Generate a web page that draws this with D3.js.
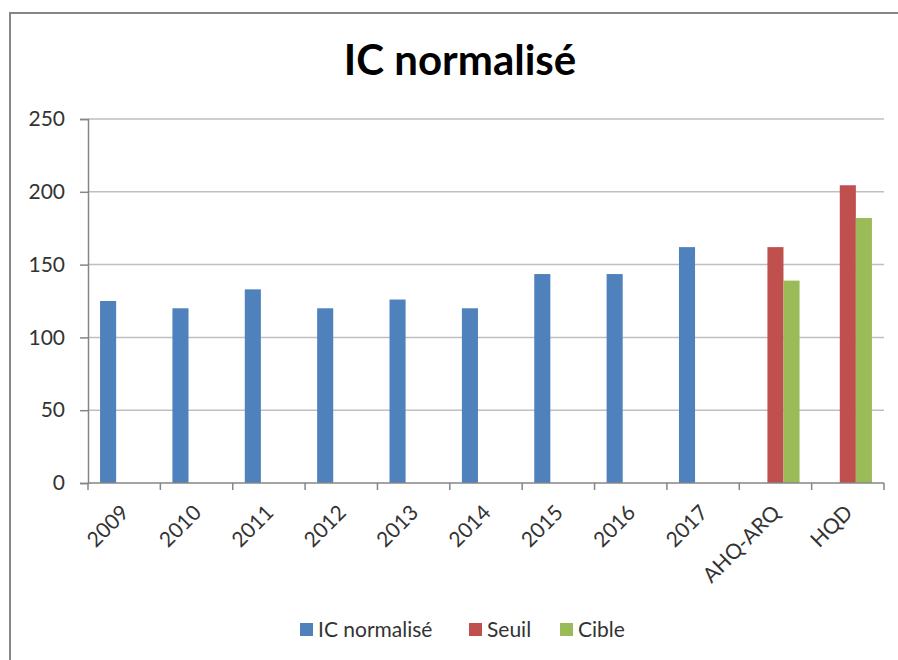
<!DOCTYPE html>
<html>
<head>
<meta charset="utf-8">
<script src="https://cdn.jsdelivr.net/npm/d3@7"></script>
<style>
  html, body { margin: 0; background: #fff; overflow: hidden; }
  svg { display: block; }
  text { font-family: Lato, "Open Sans", sans-serif; }
</style>
</head>
<body>
<div id="chart"></div>
<script>
// Chart data
const categories = ['2009', '2010', '2011', '2012', '2013', '2014', '2015', '2016', '2017', 'AHQ-ARQ', 'HQD'];
const seriesNames = ['IC normalisé', 'Seuil', 'Cible'];
const icValues = [125, 120, 133, 120, 126, 120, 143.5, 143.5, 162, null, null];
const seuilValues = [null, null, null, null, null, null, null, null, null, 162, 204.5];
const cibleValues = [null, null, null, null, null, null, null, null, null, 139, 182];
const yTicks = [0, 50, 100, 150, 200, 250];
const colors = ['#4F81BD', '#C0504D', '#9BBB59'];

const width = 898, height = 660;
const margin = { top: 119, right: 14, bottom: 177, left: 88 };
const plotW = width - margin.left - margin.right;
const plotH = height - margin.top - margin.bottom;

const svg = d3.select('#chart')
    .append('svg')
    .attr('width', width)
    .attr('height', height);

// outer frame: only the left and top edges are in the picture
svg.append('path')
    .attr('d', `M10,${height} V13 H${width}`)
    .attr('fill', 'none')
    .attr('stroke', '#868686')
    .attr('stroke-width', 2);

svg.append('text')
    .attr('x', 460)
    .attr('y', 75)
    .attr('text-anchor', 'middle')
    .attr('font-size', 42)
    .attr('font-weight', 'bold')
    .attr('fill', '#000')
    .text('IC normalisé');

const g = svg.append('g')
    .attr('transform', `translate(${margin.left}, ${margin.top})`);

const x = d3.scaleBand()
    .domain(categories)
    .range([0, plotW]);

const xInner = d3.scaleBand()
    .domain(seriesNames)
    .range([0, x.bandwidth()])
    .paddingInner(0)
    .paddingOuter(0.75);

const y = d3.scaleLinear()
    .domain([0, 250])
    .range([plotH, 0]);

// gridlines
g.append('g')
    .selectAll('line')
    .data(yTicks.filter(d => d > 0))
    .enter()
    .append('line')
    .attr('x1', 0).attr('x2', plotW)
    .attr('y1', d => y(d)).attr('y2', d => y(d))
    .attr('stroke', '#bfbfbf')
    .attr('stroke-width', 1.5);

// y axis
const yAxis = d3.axisLeft(y)
    .tickValues(yTicks)
    .tickSize(8)
    .tickPadding(15);
g.append('g')
    .attr('class', 'axis')
    .call(yAxis)
    .call(a => a.select('.domain').attr('stroke', '#868686').attr('stroke-width', 1.5))
    .call(a => a.selectAll('.tick line').attr('stroke', '#868686').attr('stroke-width', 1.5))
    .call(a => a.selectAll('text').attr('font-size', 21).attr('fill', '#333').attr('font-family', 'Lato, sans-serif'));

// bars
const allSeries = [icValues, seuilValues, cibleValues];
seriesNames.forEach((name, i) => {
    const rows = categories.map((c, j) => ({ cat: c, value: allSeries[i][j] }))
        .filter(d => d.value !== null);
    g.append('g')
        .selectAll('rect')
        .data(rows)
        .enter()
        .append('rect')
        .attr('x', d => x(d.cat) + xInner(name))
        .attr('y', d => y(d.value))
        .attr('width', xInner.bandwidth())
        .attr('height', d => plotH - y(d.value))
        .attr('fill', colors[i]);
});

// x axis line and ticks between categories
g.append('line')
    .attr('x1', 0).attr('x2', plotW)
    .attr('y1', plotH).attr('y2', plotH)
    .attr('stroke', '#868686')
    .attr('stroke-width', 1.5);

g.append('g')
    .selectAll('line')
    .data(categories.concat(['end']))
    .enter()
    .append('line')
    .attr('x1', (d, i) => i * x.step()).attr('x2', (d, i) => i * x.step())
    .attr('y1', plotH).attr('y2', plotH + 7)
    .attr('stroke', '#868686')
    .attr('stroke-width', 1.5);

// rotated category labels
g.append('g')
    .selectAll('text')
    .data(categories)
    .enter()
    .append('text')
    .attr('transform', d => `translate(${x(d) + x.bandwidth() / 2 + 6}, ${plotH + 31}) rotate(-45)`)
    .attr('text-anchor', 'end')
    .attr('font-size', 21)
    .attr('fill', '#333')
    .text(d => d);

// legend
const legendItems = [
    { name: seriesNames[0], x: 300 },
    { name: seriesNames[1], x: 469 },
    { name: seriesNames[2], x: 560 }
];
const legend = svg.append('g');
legendItems.forEach((item, i) => {
    legend.append('rect')
        .attr('x', item.x).attr('y', 623)
        .attr('width', 13).attr('height', 13)
        .attr('fill', colors[i]);
    legend.append('text')
        .attr('x', item.x + 18).attr('y', 637)
        .attr('font-size', 21)
        .attr('fill', '#333')
        .text(item.name);
});
</script>
</body>
</html>
